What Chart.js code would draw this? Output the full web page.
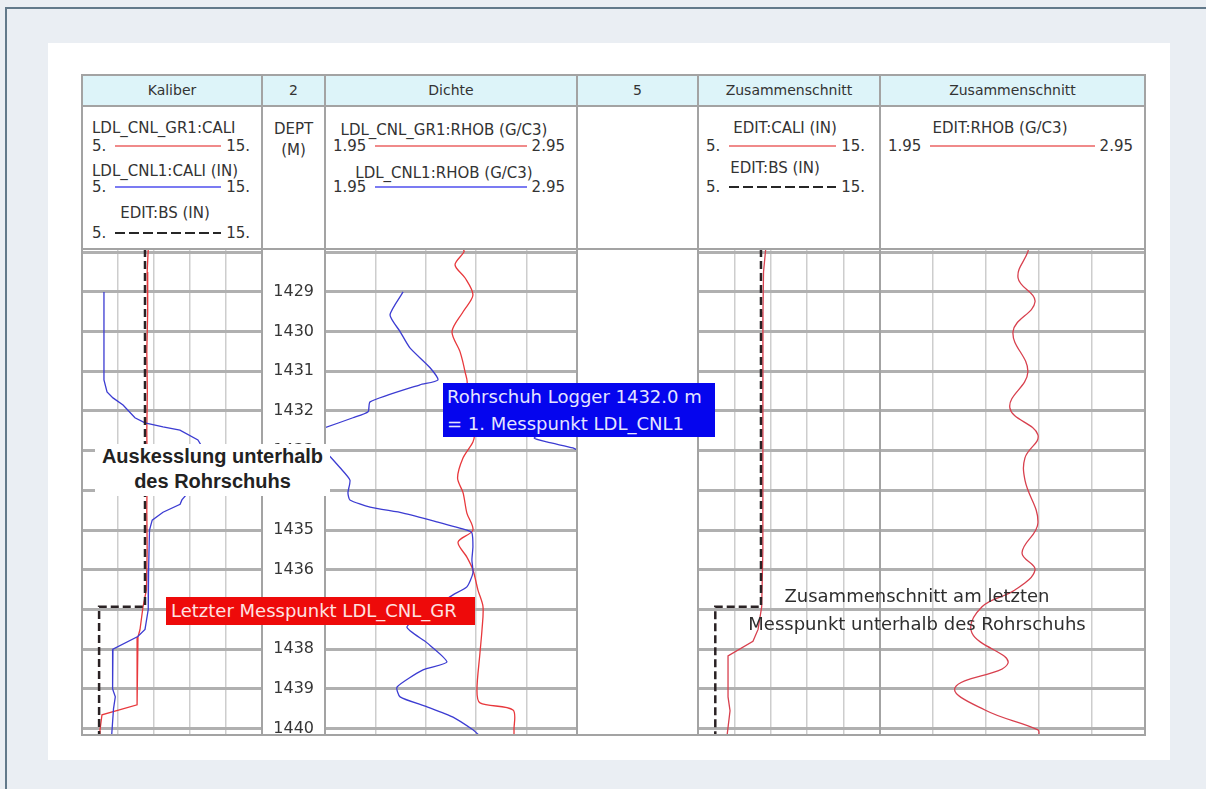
<!DOCTYPE html>
<html lang="de">
<head>
<meta charset="utf-8">
<title>Zusammenschnitt am Rohrschuh</title>
<script src="https://cdn.jsdelivr.net/npm/chart.js@4.4.1/dist/chart.umd.min.js"></script>
<style>
  body { margin: 0; background: #eaeef3; font-family: "DejaVu Sans", sans-serif; color: #333; }
  #page { position: relative; width: 1206px; height: 789px; overflow: hidden; }
  #page div, #page canvas { position: absolute; }
  .head { top: 75px; height: 31px; line-height: 31px; background: #ddf4f9; text-align: center; font-size: 14px; color: #333; }
  .leg { top: 106px; height: 143px; background: #fff; font-size: 15px; }
  .leg .t { white-space: nowrap; line-height: 18px; }
  .leg .row { display: flex; align-items: center; height: 18px; line-height: 18px; white-space: nowrap; }
  .leg .row i { display: block; flex: 1; height: 2px; margin: 0 5px 0 9px; }
  .red i { background: #f08a8a; }
  .blue i { background: #7b7bf2; }
  .bs i { height: 3px; background: repeating-linear-gradient(90deg, #262626 0 10px, transparent 10px 14px); }
  .line { background: #a3a3a3; }
  .note { font-size: 18px; white-space: nowrap; }
</style>
</head>
<body>
<div id="page">
  <div style="left:5px;top:7px;right:0;bottom:0;border-left:2px solid #62798a;border-top:2px solid #62798a;"></div>
  <div style="left:48px;top:43px;width:1122px;height:717px;background:#fff;"></div>

  <!-- legend row -->
  <div class="leg" style="left:82px;width:180px;">
    <div class="t" style="left:10px;top:13px;">LDL_CNL_GR1:CALI</div>
    <div class="row red" style="left:10px;right:12px;top:31px;"><span>5.</span><i></i><span>15.</span></div>
    <div class="t" style="left:10px;top:56px;">LDL_CNL1:CALI (IN)</div>
    <div class="row blue" style="left:10px;right:12px;top:72px;"><span>5.</span><i></i><span>15.</span></div>
    <div class="t" style="left:21px;width:124px;top:98px;text-align:center;">EDIT:BS (IN)</div>
    <div class="row bs" style="left:10px;right:12px;top:118px;"><span>5.</span><i></i><span>15.</span></div>
  </div>
  <div class="leg" style="left:262px;width:63px;">
    <div class="t" style="left:0;width:63px;top:14px;text-align:center;">DEPT</div>
    <div class="t" style="left:0;width:63px;top:35px;text-align:center;">(M)</div>
  </div>
  <div class="leg" style="left:325px;width:252px;">
    <div class="t" style="left:0;width:238px;top:15px;text-align:center;">LDL_CNL_GR1:RHOB (G/C3)</div>
    <div class="row red" style="left:8px;right:12px;top:31px;"><span>1.95</span><i></i><span>2.95</span></div>
    <div class="t" style="left:0;width:238px;top:58px;text-align:center;">LDL_CNL1:RHOB (G/C3)</div>
    <div class="row blue" style="left:8px;right:12px;top:72px;"><span>1.95</span><i></i><span>2.95</span></div>
  </div>
  <div class="leg" style="left:577px;width:121px;"></div>
  <div class="leg" style="left:698px;width:182px;">
    <div class="t" style="left:0;width:174px;top:13px;text-align:center;">EDIT:CALI (IN)</div>
    <div class="row red" style="left:8px;right:15px;top:31px;"><span>5.</span><i></i><span>15.</span></div>
    <div class="t" style="left:0;width:154px;top:53px;text-align:center;">EDIT:BS (IN)</div>
    <div class="row bs" style="left:8px;right:15px;top:72px;"><span>5.</span><i></i><span>15.</span></div>
  </div>
  <div class="leg" style="left:880px;width:265px;">
    <div class="t" style="left:0;width:240px;top:13px;text-align:center;">EDIT:RHOB (G/C3)</div>
    <div class="row red" style="left:8px;right:12px;top:31px;"><span>1.95</span><i></i><span>2.95</span></div>
  </div>
</div>

<script>
// Tiefenbereich der Darstellung (m)
const depthRange = [1427.92, 1440.16];
const trackTitles = ["Kaliber", "2", "Dichte", "5", "Zusammenschnitt", "Zusammenschnitt"];
const trackEdges = [82, 262, 325, 577, 698, 880, 1145];

// LDL_CNL_GR1:CALI (IN)
const caliGR1Depth = [1427.92, 1428.5, 1429.5, 1430.5, 1431.5, 1432.5, 1433.5, 1434.5, 1435.5, 1436.5, 1436.93, 1437.51, 1437.69, 1438.09, 1439.4, 1439.65, 1440.03, 1440.16];
const caliGR1 = [8.68, 8.62, 8.65, 8.6, 8.63, 8.6, 8.62, 8.6, 8.62, 8.58, 8.39, 8.22, 8.11, 8.06, 8.06, 6.11, 6.0, 6.0];

// LDL_CNL1:CALI (IN)
const caliCNL1Depth = [1429.0, 1431.22, 1431.52, 1431.67, 1431.85, 1432.17, 1432.3, 1432.4, 1432.48, 1432.73, 1433.0, 1433.5, 1434.0, 1434.24, 1434.35, 1434.55, 1434.75, 1435.0, 1436.0, 1437.0, 1437.5, 1437.68, 1438.0, 1439.0, 1439.2, 1439.5, 1440.16];
const caliCNL1 = [6.22, 6.22, 6.39, 6.72, 7.28, 7.94, 8.5, 9.5, 10.44, 11.44, 11.8, 11.6, 11.0, 10.55, 10.45, 9.5, 8.9, 8.75, 8.7, 8.68, 8.5, 8.1, 6.72, 6.7, 6.85, 6.75, 6.65];

// EDIT:BS (IN)
const bsDepth = [1427.92, 1436.93, 1436.93, 1440.16];
const bsKaliber = [8.5, 8.5, 5.95, 5.95];
const bsEdit = [8.46, 8.46, 5.95, 5.95];

// LDL_CNL_GR1:RHOB (G/C3)
const rhobGR1Depth = [1427.92, 1427.99, 1428.32, 1428.65, 1429.08, 1429.5, 1430.0, 1430.51, 1431.02, 1431.34, 1431.9, 1432.6, 1432.78, 1433.18, 1433.69, 1434.06, 1434.57, 1435.0, 1435.3, 1435.68, 1436.0, 1436.51, 1436.93, 1437.51, 1438.09, 1439.03, 1439.35, 1439.53, 1440.03, 1440.16];
const rhobGR1 = [2.498, 2.502, 2.466, 2.506, 2.537, 2.498, 2.454, 2.486, 2.506, 2.513, 2.45, 2.54, 2.537, 2.498, 2.476, 2.498, 2.513, 2.537, 2.478, 2.513, 2.537, 2.557, 2.577, 2.573, 2.565, 2.553, 2.565, 2.696, 2.7, 2.7];

// LDL_CNL1:RHOB (G/C3), mit Umbruch am linken Spurrand
const rhobCNL1TopDepth = [1429.0, 1429.58, 1430.0, 1430.41, 1430.91, 1431.22, 1431.34, 1431.77, 1432.02, 1432.17, 1432.42];
const rhobCNL1Top = [2.26, 2.208, 2.248, 2.287, 2.367, 2.398, 2.327, 2.129, 2.121, 2.061, 1.95];
const rhobCNL1WrapDepth = [1432.42, 1432.55, 1432.68, 1432.78, 1432.93, 1432.98];
const rhobCNL1Wrap = [2.95, 2.82, 2.78, 2.83, 2.934, 2.95];
const rhobCNL1Depth = [1433.0, 1433.06, 1433.43, 1433.74, 1434.06, 1434.24, 1434.42, 1434.57, 1434.79, 1435.0, 1435.07, 1435.42, 1435.75, 1436.08, 1436.43, 1436.63, 1437.0, 1437.44, 1437.84, 1438.32, 1438.52, 1438.95, 1439.2, 1439.45, 1439.71, 1440.03, 1440.16];
const rhobCNL1 = [1.95, 1.958, 2.01, 2.049, 2.041, 2.049, 2.129, 2.26, 2.394, 2.513, 2.533, 2.537, 2.533, 2.537, 2.513, 2.458, 2.37, 2.275, 2.355, 2.434, 2.339, 2.236, 2.248, 2.355, 2.458, 2.537, 2.56];

// EDIT:CALI (IN)
const caliEditDepth = [1427.92, 1428.5, 1429.5, 1431.5, 1433.5, 1435.5, 1436.93, 1437.5, 1437.8, 1438.17, 1439.2, 1439.55, 1440.16];
const caliEdit = [8.72, 8.6, 8.57, 8.56, 8.57, 8.56, 8.5, 8.3, 8.02, 6.65, 6.65, 6.76, 6.6];

// EDIT:RHOB (G/C3)
const rhobEditDepth = [1427.92, 1427.99, 1428.65, 1429.25, 1430.0, 1431.02, 1431.92, 1432.6, 1433.18, 1433.74, 1434.82, 1435.57, 1436.0, 1436.51, 1436.93, 1437.59, 1438.35, 1438.97, 1439.53, 1440.03, 1440.16];
const rhobEdit = [2.51, 2.508, 2.471, 2.535, 2.452, 2.508, 2.44, 2.546, 2.497, 2.497, 2.546, 2.486, 2.535, 2.459, 2.335, 2.297, 2.433, 2.233, 2.346, 2.546, 2.55];

const page = document.getElementById("page");
const plotTop = 249, plotBottom = 735;

// Kopfzeile
trackTitles.forEach((t, i) => {
  const d = document.createElement("div");
  d.className = "head";
  d.style.left = trackEdges[i] + "px";
  d.style.width = (trackEdges[i + 1] - trackEdges[i]) + "px";
  d.textContent = t;
  page.appendChild(d);
});

function canvasFor(i) {
  const c = document.createElement("canvas");
  c.width = trackEdges[i + 1] - trackEdges[i];
  c.height = plotBottom - plotTop;
  c.style.left = trackEdges[i] + "px";
  c.style.top = plotTop + "px";
  page.appendChild(c);
  return c;
}

function curve(depths, values, color, width, dash, tension) {
  return {
    data: depths.map((d, i) => ({ x: values[i], y: d })),
    borderColor: color,
    borderWidth: width,
    borderDash: dash || [],
    pointRadius: 0,
    showLine: true,
    tension: tension || 0
  };
}

function track(i, xMin, xMax, xStep, datasets) {
  return new Chart(canvasFor(i), {
    type: "scatter",
    data: { datasets: datasets },
    options: {
      responsive: false,
      animation: false,
      events: [],
      layout: { padding: 0 },
      plugins: { legend: { display: false }, tooltip: { enabled: false } },
      scales: {
        x: {
          min: xMin, max: xMax,
          ticks: { display: false, stepSize: xStep },
          grid: { color: "#cdcdcd", lineWidth: 1.5, drawTicks: false },
          border: { display: false }
        },
        y: {
          reverse: true, min: depthRange[0], max: depthRange[1],
          ticks: { display: false, stepSize: 1, includeBounds: false },
          grid: { color: "#b0b0b0", lineWidth: 3, drawTicks: false },
          border: { display: false }
        }
      }
    }
  });
}

const RED = "#e8383c", BLUE = "#3c3cd2", BS = "#2a2224";

track(0, 5, 15, 2, [
  curve(bsDepth, bsKaliber, BS, 2.5, [8, 4]),
  curve(caliCNL1Depth, caliCNL1, BLUE, 1.3),
  curve(caliGR1Depth, caliGR1, RED, 1.3)
]);

// Tiefenspur: nur Beschriftung der Tiefenachse
const depthCanvas = canvasFor(1);
new Chart(depthCanvas, {
  type: "scatter",
  data: { datasets: [] },
  options: {
    responsive: false,
    animation: false,
    events: [],
    layout: { padding: 0 },
    plugins: { legend: { display: false }, tooltip: { enabled: false } },
    scales: {
      x: { display: false, min: 0, max: 1 },
      y: {
        position: "left",
        reverse: true, min: depthRange[0], max: depthRange[1],
        ticks: {
          stepSize: 1, includeBounds: false, crossAlign: "center", padding: 10,
          color: "#363636", font: { family: "DejaVu Sans", size: 16 },
          callback: v => (v >= 1429 ? String(v) : "")
        },
        grid: { display: false, drawTicks: false },
        border: { display: false },
        afterFit: s => { s.width = depthCanvas.width - 1; s.paddingTop = 0; s.paddingBottom = 0; }
      }
    }
  }
});

track(2, 1.95, 2.95, 0.2, [
  curve(rhobCNL1TopDepth, rhobCNL1Top, BLUE, 1.3, null, 0.2),
  curve(rhobCNL1WrapDepth, rhobCNL1Wrap, BLUE, 1.3, null, 0.2),
  curve(rhobCNL1Depth, rhobCNL1, BLUE, 1.3, null, 0.2),
  curve(rhobGR1Depth, rhobGR1, RED, 1.3, null, 0.3)
]);

track(4, 5, 15, 2, [
  curve(bsDepth, bsEdit, BS, 2.5, [8, 4]),
  curve(caliEditDepth, caliEdit, "#d8404e", 1.3)
]);

track(5, 1.95, 2.95, 0.2, [
  curve(rhobEditDepth, rhobEdit, "#d8404e", 1.3, null, 0.4)
]);

// Rahmenlinien der Tabelle
[75, 106, plotTop, plotBottom].forEach(y => {
  const d = document.createElement("div");
  d.className = "line";
  d.style.cssText = `left:${trackEdges[0] - 1}px;top:${y - 1}px;width:${trackEdges[6] - trackEdges[0] + 2}px;height:2px;`;
  page.appendChild(d);
});
trackEdges.forEach(x => {
  const d = document.createElement("div");
  d.className = "line";
  d.style.cssText = `left:${x - 1}px;top:74px;width:2px;height:${plotBottom - 74 + 1}px;`;
  page.appendChild(d);
});

// Anmerkungen
page.insertAdjacentHTML("beforeend", `
  <div style="left:95px;top:444px;width:235px;height:52px;background:#fff;text-align:center;
       font:bold 20px 'Liberation Sans',Arial,sans-serif;line-height:25px;color:#222;">Auskesslung unterhalb<br>des Rohrschuhs</div>
  <div class="note" style="left:443px;top:383px;width:268px;height:54px;padding-left:4px;background:#0505ee;
       color:#e4e4ff;line-height:27px;">Rohrschuh Logger 1432.0 m<br>= 1. Messpunkt LDL_CNL1</div>
  <div class="note" style="left:166px;top:597px;width:304px;height:28px;padding-left:5px;background:#ee0a0a;
       color:#ffe2e2;line-height:28px;">Letzter Messpunkt LDL_CNL_GR</div>
  <div class="note" style="left:717px;top:582px;width:400px;text-align:center;line-height:28px;color:#2e2e2e;">Zusammenschnitt am letzten<br>Messpunkt unterhalb des Rohrschuhs</div>
`);
</script>
</body>
</html>
